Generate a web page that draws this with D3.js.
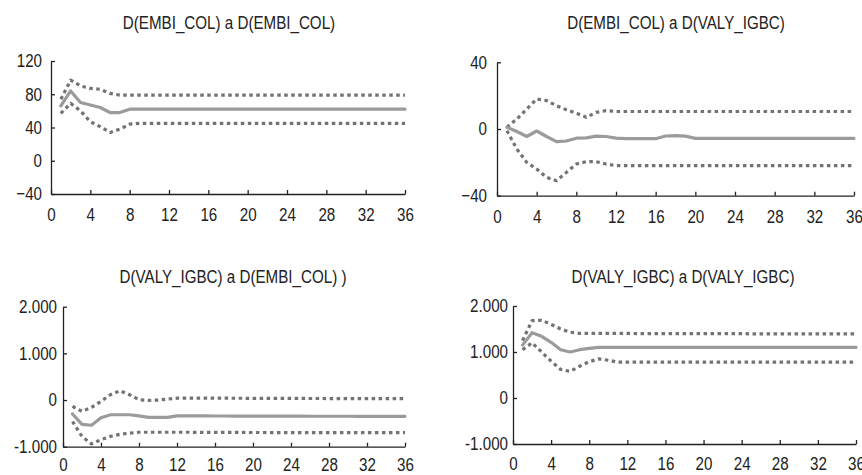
<!DOCTYPE html>
<html>
<head>
<meta charset="utf-8">
<script src="https://cdn.jsdelivr.net/npm/d3@7"></script>
<style>
  html, body { margin: 0; padding: 0; background: #ffffff; }
  svg { display: block; }
  text { font-family: "Liberation Sans", Arial, sans-serif; fill: #222; }
</style>
</head>
<body>
<svg id="chart" width="862" height="475"></svg>
<script>
// ---------- data ----------
const periods = [1,2,3,4,5,6,7,8,9,10,11,12,13,14,15,16,17,18,19,20,21,22,23,24,25,26,27,28,29,30,31,32,33,34,35,36];
const xTicks = [0,4,8,12,16,20,24,28,32,36];

const titles = [
  "D(EMBI_COL) a D(EMBI_COL)",
  "D(EMBI_COL) a D(VALY_IGBC)",
  "D(VALY_IGBC) a D(EMBI_COL) )",
  "D(VALY_IGBC) a D(VALY_IGBC)"
];

const yTicks1 = [-40, 0, 40, 80, 120];
const yTicks2 = [-40, 0, 40];
const yTicks3 = [-1000, 0, 1000, 2000];
const yTicks4 = [-1000, 0, 1000, 2000];

// Panel 1: D(EMBI_COL) a D(EMBI_COL)
const resp1  = [66,84,70,67,64,58,58,62,62,62,62,62,62,62,62,62,62,62,62,62,62,62,62,62,62,62,62,62,62,62,62,62,62,62,62,62];
const upper1 = [74,97,90,87,86,81,79,79,79,79,79,79,79,79,79,79,79,79,79,79,79,79,79,79,79,79,79,79,79,79,79,79,79,79,79,79];
const lower1 = [57,69,60,47,41,34,38,44,45,45,45,45,45,45,45,45,45,45,45,45,45,45,45,45,45,45,45,45,45,45,45,45,45,45,45,45];

// Panel 2: D(EMBI_COL) a D(VALY_IGBC)
const resp2  = [1,-1.5,-4.5,-1.2,-4.5,-7.6,-7.2,-5.5,-5.3,-4.3,-4.5,-5.5,-5.8,-5.8,-5.8,-5.8,-4.2,-4,-4.3,-5.6,-5.6,-5.6,-5.6,-5.6,-5.6,-5.6,-5.6,-5.6,-5.6,-5.6,-5.6,-5.6,-5.6,-5.6,-5.6,-5.6];
const upper2 = [1,6,12,18,17,14,11.5,9.5,7,10,11,10.5,10.5,10.5,10.5,10.5,10.5,10.5,10.5,10.5,10.5,10.5,10.5,10.5,10.5,10.5,10.5,10.5,10.5,10.5,10.5,10.5,10.5,10.5,10.5,10.5];
const lower2 = [-1,-12,-20,-24,-29,-31,-26,-21,-19.6,-19.6,-21,-22,-22,-22,-22,-22,-22,-22,-22,-22,-22,-22,-22,-22,-22,-22,-22,-22,-22,-22,-22,-22,-22,-22,-22,-22];

// Panel 3: D(VALY_IGBC) a D(EMBI_COL)
const resp3  = [-300,-520,-540,-380,-315,-315,-315,-340,-372,-372,-370,-340,-340,-340,-340,-342,-342,-343,-343,-344,-344,-345,-345,-346,-346,-347,-347,-348,-348,-348,-349,-349,-350,-350,-350,-350];
const upper3 = [-136,-243,-157,-29,114,200,114,7,-7,0,20,40,40,40,40,40,40,38,38,36,36,35,35,34,34,33,33,32,32,31,31,30,30,30,30,30];
const lower3 = [-460,-780,-940,-850,-780,-735,-710,-690,-690,-690,-690,-690,-690,-692,-692,-694,-694,-695,-695,-696,-696,-697,-697,-698,-698,-699,-699,-700,-700,-700,-700,-700,-700,-700,-700,-700];

// Panel 4: D(VALY_IGBC) a D(VALY_IGBC)
const resp4  = [1150,1420,1340,1210,1050,1000,1050,1080,1100,1100,1100,1100,1100,1100,1100,1100,1100,1100,1100,1100,1100,1100,1100,1100,1100,1100,1100,1100,1100,1100,1100,1100,1100,1100,1100,1100];
const upper4 = [1250,1680,1690,1600,1500,1430,1405,1405,1405,1405,1405,1405,1400,1400,1400,1400,1400,1400,1400,1400,1400,1400,1400,1400,1395,1395,1395,1395,1395,1395,1395,1395,1395,1395,1395,1395];
const lower4 = [1050,1200,1000,800,620,580,690,790,850,820,780,780,780,780,780,780,780,780,780,780,780,780,780,780,780,780,780,780,780,780,780,780,780,780,780,780];

// ---------- layout ----------
const euro = d3.formatLocale({decimal: ",", thousands: ".", grouping: [3], currency: ["$", ""], minus: "-"});
const fmtPlain = d3.format("d");
const fmtThousands = euro.format(",d");
const SX = 0.82;       // horizontal condensing of text
const FS = "18.5px";

const panels = [
  {title: titles[0], resp: resp1, upper: upper1, lower: lower1, yTicks: yTicks1, fmt: fmtPlain,
   x0: 51, x1: 405, yTop: 61, yBot: 194, titleX: 229, titleY: 29, yPad: 9, xPad: 14},
  {title: titles[1], resp: resp2, upper: upper2, lower: lower2, yTicks: yTicks2, fmt: fmtPlain,
   x0: 497, x1: 854, yTop: 62.3, yBot: 195.7, titleX: 676, titleY: 29, yPad: 10, xPad: 14},
  {title: titles[2], resp: resp3, upper: upper3, lower: lower3, yTicks: yTicks3, fmt: fmtThousands,
   x0: 63, x1: 405, yTop: 306.7, yBot: 446.7, titleX: 233, titleY: 283, yPad: 6, xPad: 11},
  {title: titles[3], resp: resp4, upper: upper4, lower: lower4, yTicks: yTicks4, fmt: fmtThousands,
   x0: 513, x1: 856, yTop: 306, yBot: 444, titleX: 683, titleY: 283, yPad: 5, xPad: 13}
];

const svg = d3.select("#chart");

panels.forEach(p => {
  const g = svg.append("g");
  const x = d3.scaleLinear().domain([0, 36]).range([p.x0, p.x1]);
  const y = d3.scaleLinear().domain(d3.extent(p.yTicks)).range([p.yBot, p.yTop]);

  g.append("g").attr("transform", `translate(${p.titleX},${p.titleY})`)
    .append("text")
    .attr("transform", `scale(${SX},1)`)
    .attr("text-anchor", "middle")
    .style("font-size", FS)
    .text(p.title);

  const xAxis = d3.axisBottom(x).tickValues(xTicks).tickFormat(d3.format("d"))
    .tickSizeInner(-4).tickSizeOuter(0).tickPadding(p.xPad);
  const gx = g.append("g").attr("transform", `translate(0,${p.yBot})`).call(xAxis);

  const yAxis = d3.axisLeft(y).tickValues(p.yTicks).tickFormat(p.fmt)
    .tickSizeInner(-4).tickSizeOuter(0).tickPadding(p.yPad / SX);
  const gy = g.append("g").attr("transform", `translate(${p.x0},0)`).call(yAxis);

  [gx, gy].forEach(ax => {
    ax.select(".domain").attr("stroke", "#222").attr("stroke-width", 1.3);
    ax.selectAll(".tick line").attr("stroke", "#222").attr("stroke-width", 1.3);
    ax.selectAll(".tick text")
      .style("font-size", FS)
      .style("font-family", "'Liberation Sans', Arial, sans-serif")
      .attr("fill", "#222")
      .attr("transform", `scale(${SX},1)`);
  });

  const line = d3.line().x((d, i) => x(periods[i])).y(d => y(d));

  [p.upper, p.lower].forEach(arr => {
    g.append("path").datum(arr)
      .attr("d", line)
      .attr("fill", "none")
      .attr("stroke", "#737373")
      .attr("stroke-width", 3.2)
      .attr("stroke-dasharray", "3.5,3.5")
      .attr("stroke-linejoin", "round");
  });

  g.append("path").datum(p.resp)
    .attr("d", line)
    .attr("fill", "none")
    .attr("stroke", "#9b9b9b")
    .attr("stroke-width", 3.2)
    .attr("stroke-linejoin", "round")
    .attr("stroke-linecap", "round");
});
</script>
</body>
</html>
